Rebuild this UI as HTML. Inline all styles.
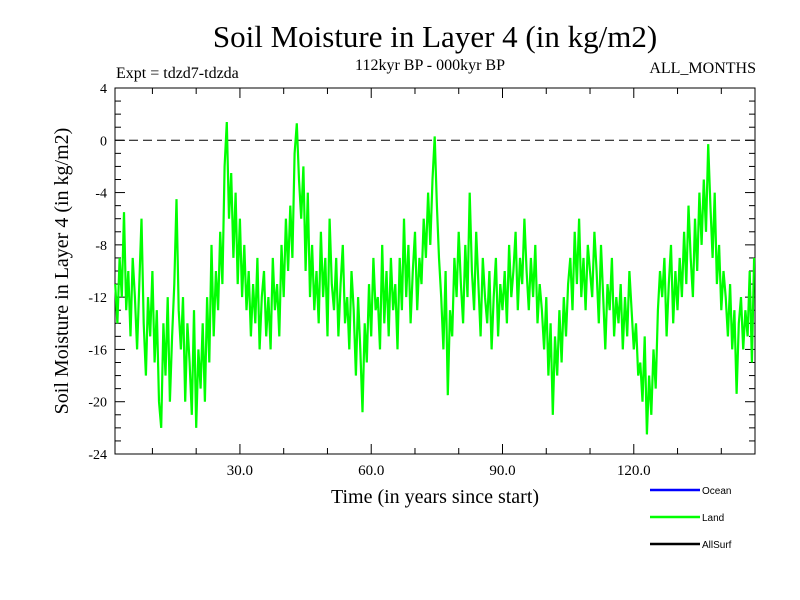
<!DOCTYPE html>
<html><head><meta charset="utf-8"><style>
body{margin:0;background:#fff}
svg{display:block;font-family:"Liberation Serif",serif}
</style></head><body>
<svg id="chart" width="800" height="600" viewBox="0 0 800 600" xmlns="http://www.w3.org/2000/svg">
<rect width="800" height="600" fill="#fff"/>
<text x="435" y="47" font-size="31" text-anchor="middle">Soil Moisture in Layer 4 (in kg/m2)</text>
<text x="116" y="78" font-size="16">Expt = tdzd7-tdzda</text>
<text x="430" y="70" font-size="16" text-anchor="middle">112kyr BP - 000kyr BP</text>
<text x="756" y="73" font-size="16" text-anchor="end">ALL_MONTHS</text>
<g id="axes"></g>
<g id="series"></g>
<text transform="translate(68,271) rotate(-90)" font-size="20" text-anchor="middle">Soil Moisture in Layer 4 (in kg/m2)</text>
<text x="435" y="503" font-size="20" text-anchor="middle">Time (in years since start)</text>
<g font-family="Liberation Sans, sans-serif" font-size="10">
<line x1="650" y1="490" x2="700" y2="490" stroke="#0000ff" stroke-width="2.5"/>
<text x="702" y="494">Ocean</text>
<line x1="650" y1="517" x2="700" y2="517" stroke="#00ff00" stroke-width="2.5"/>
<text x="702" y="521">Land</text>
<line x1="650" y1="544" x2="700" y2="544" stroke="#000" stroke-width="2.5"/>
<text x="702" y="548">AllSurf</text>
</g>
</svg>
<script>
const xStart = 1.5, xStep = 0.5;
const landValues = [
-11,-14,-9,-12,-5.5,-13,-10,-15,-9,-12,
-16,-11,-6,-14,-18,-12,-15,-10,-17,-13,
-20,-22,-14,-18,-12,-20,-15,-11,-4.5,-13,
-16,-12,-20,-14,-17,-21,-13,-22,-16,-19,
-14,-20,-12,-17,-8,-15,-10,-13,-7,-11,
-2,1.4,-6,-2.5,-9,-4,-11,-6,-12,-8,
-13,-10,-15,-11,-14,-9,-16,-12,-10,-15,
-12,-16,-9,-13,-11,-15,-8,-12,-6,-10,
-5,-9,-1,1.3,-3,-6,-2,-10,-4,-12,
-8,-13,-10,-14,-7,-12,-9,-15,-6,-11,
-13,-9,-15,-11,-8,-14,-12,-16,-10,-13,
-18,-12,-16,-20.8,-14,-17,-11,-15,-9,-13,
-12,-16,-8,-14,-10,-15,-9,-13,-11,-16,
-9,-13,-6,-12,-8,-14,-10,-7,-13,-9,
-11,-6,-9,-4,-8,-3,0.3,-5,-9,-12,
-16,-10,-19.5,-13,-15,-9,-12,-7,-11,-14,
-8,-12,-4,-10,-13,-7,-11,-15,-9,-12,
-14,-10,-16,-12,-9,-15,-11,-13,-10,-14,
-8,-12,-10,-7,-13,-9,-11,-6,-10,-13,
-9,-12,-8,-14,-11,-13,-16,-12,-18,-14,
-21,-15,-18,-13,-17,-12,-15,-11,-9,-13,
-7,-11,-6,-12,-9,-13,-8,-10,-12,-7,
-10,-14,-8,-12,-16,-11,-13,-9,-15,-12,
-14,-11,-16,-12,-15,-10,-13,-16,-14,-18,
-17,-20,-15,-22.5,-18,-21,-16,-19,-13,-10,
-12,-9,-15,-11,-8,-14,-10,-13,-9,-12,
-7,-11,-5,-9,-12,-6,-10,-4,-8,-3,
-7,-0.3,-5,-9,-4,-11,-8,-13,-10,-12,
-15,-11,-16,-13,-19.4,-14,-12,-16,-13,-15,
-10,-17,-9
];
const yTicks = [4,0,-4,-8,-12,-16,-20,-24];
const xTicks = [30,60,90,120];
const xTickLabels = ["30.0","60.0","90.0","120.0"];

const L=115,R=755,T=88,B=454, xMin=1.45, xMax=147.7, yMin=-24, yMax=4;
const sx=v=>L+(v-xMin)/(xMax-xMin)*(R-L);
const sy=v=>B-(v-yMin)/(yMax-yMin)*(B-T);
const NS="http://www.w3.org/2000/svg";
const axes=document.getElementById('axes');
function mk(tag,attrs,parent){const e=document.createElementNS(NS,tag);for(const k in attrs)e.setAttribute(k,attrs[k]);parent.appendChild(e);return e;}
const frame=mk('rect',{x:L,y:T,width:R-L,height:B-T,fill:'none',stroke:'#000','stroke-width':1},axes);


for(let v=yMin;v<=yMax;v++){
  const len=(v%4===0)?10:6;
  mk('line',{x1:L,x2:L+len,y1:sy(v),y2:sy(v),stroke:'#000'},axes);
  mk('line',{x1:R,x2:R-len,y1:sy(v),y2:sy(v),stroke:'#000'},axes);
}
yTicks.forEach(v=>{
  const t=mk('text',{x:L-8,y:sy(v)+5,'font-size':14,'text-anchor':'end'},axes);
  t.textContent=String(v);
  
  
});
for(let v=10;v<xMax;v+=10){
  const len=(v%30===0)?10:6;
  mk('line',{x1:sx(v),x2:sx(v),y1:B,y2:B-len,stroke:'#000'},axes);
  mk('line',{x1:sx(v),x2:sx(v),y1:T,y2:T+len,stroke:'#000'},axes);
}
xTicks.forEach((v,i)=>{
  const t=mk('text',{x:sx(v),y:B+21,'font-size':15,'text-anchor':'middle'},axes);
  t.textContent=xTickLabels[i];
  
  
});
const zl=mk('line',{x1:L,x2:R,y1:sy(0),y2:sy(0),stroke:'#000','stroke-dasharray':'9,5'},axes);


const pts=landValues.map((v,i)=>sx(xStart+i*xStep).toFixed(1)+','+sy(v).toFixed(1)).join(' ');
const pl=mk('polyline',{points:pts,fill:'none',stroke:'#00ff00','stroke-width':2.2,'stroke-linejoin':'miter'},document.getElementById('series'));


</script>
</body></html>
